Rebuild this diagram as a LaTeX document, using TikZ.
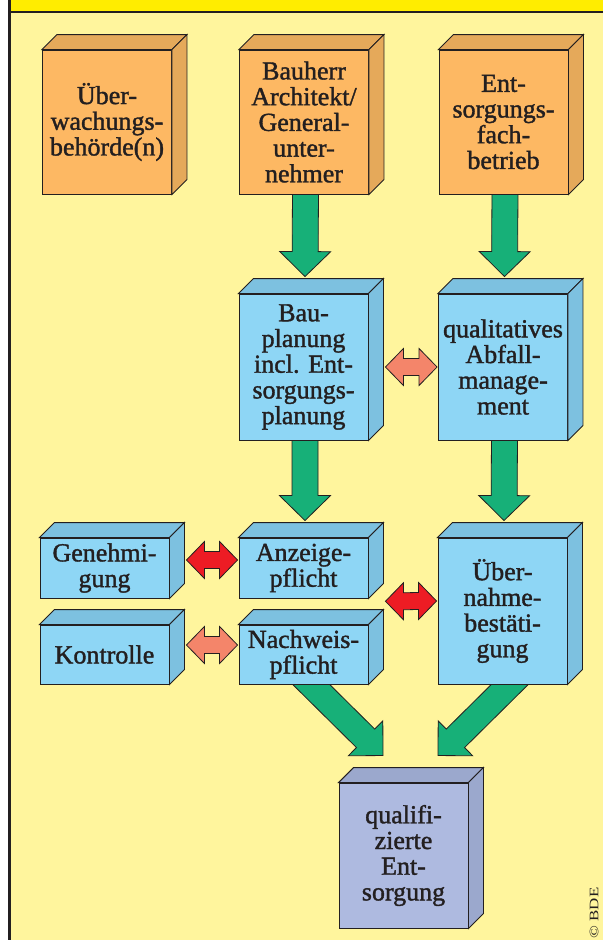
\documentclass[tikz,border=0pt]{standalone}
\usepackage{fontspec}
\setmainfont{Liberation Serif}
\newfontfamily\boxfont{Liberation Serif}[FakeBold=1.4]
\usetikzlibrary{calc}

\definecolor{ink}{HTML}{231F20}
\definecolor{paper}{HTML}{FFF59D}
\definecolor{band}{HTML}{FFED00}
\definecolor{ofront}{HTML}{FDB863}
\definecolor{oside}{HTML}{E5A95A}
\definecolor{bfront}{HTML}{8ED6F5}
\definecolor{bside}{HTML}{7DC1E0}
\definecolor{lfront}{HTML}{AEBAE0}
\definecolor{lside}{HTML}{9BA8CD}
\definecolor{flow}{HTML}{17B078}
\definecolor{hotred}{HTML}{ED1C24}
\definecolor{salmon}{HTML}{F4856A}

\pgfdeclarelayer{back}
\pgfsetlayers{back,main}

% top and right faces of a box whose front face is node #1
\newcommand{\cubefaces}[2]{%
  \draw[edge, fill=#2] (#1.north west) -- ++(15,-15)
    -- ([shift={(15,-15)}]#1.north east) -- (#1.north east) -- cycle;
  \draw[edge, fill=#2] (#1.north east) -- ++(15,-15)
    -- ([shift={(15,-15)}]#1.south east) -- (#1.south east) -- cycle;
}

% broad green flow arrow: start, tip, head length, head half-width
\newcommand{\flowarrow}[4]{%
  \path (#1) coordinate (fa-s) (#2) coordinate (fa-t);
  \path ($(fa-t)!#3!(fa-s)$) coordinate (fa-h);
  \draw[edge, line width=0.8pt, fill=flow]
    ($(fa-s)!13pt!90:(fa-t)$) -- ($(fa-h)!13pt!90:(fa-t)$)
    -- ($(fa-h)!#4!90:(fa-t)$) -- (fa-t)
    -- ($(fa-h)!#4!-90:(fa-t)$) -- ($(fa-h)!13pt!-90:(fa-t)$)
    -- ($(fa-s)!13pt!-90:(fa-t)$) -- cycle;
}

% short horizontal double arrow: left tip, right tip, colour
\newcommand{\twoway}[3]{%
  \path (#1) coordinate (da-l) (#2) coordinate (da-r);
  \draw[edge, line width=0.8pt, fill=#3]
    (da-l) -- ++(18,-18.5) -- ++(0,10) -- ($(da-r)+(-18,-8.5)$)
    -- ++(0,-10) -- (da-r) -- ++(-18,18.5) -- ++(0,-10)
    -- ($(da-l)+(18,8.5)$) -- ++(0,10) -- cycle;
}

\tikzset{
  edge/.style={draw=ink, line width=0.9pt, line join=miter},
  face/.style={edge, inner sep=0pt, minimum width=129pt, text=ink,
    align=center, font=\boxfont\fontsize{26}{25.7}\selectfont},
  orangebox/.style={face, fill=ofront},
  bluebox/.style={face, fill=bfront},
  lilacbox/.style={face, fill=lfront},
}

\begin{document}
\begin{tikzpicture}[x=1pt, y=-1pt]
\useasboundingbox (0,0) rectangle (603,940);

% boxes (front faces)
\node[orangebox, minimum height=144pt] (ueb) at (107,122) {Über-\\wachungs-\\behörde(n)};
\node[orangebox, minimum height=144pt] (bau) at (304,122) {Bauherr\\Architekt/\\General-\\unter-\\nehmer};
\node[orangebox, minimum height=144pt] (ent) at (503.5,122) {Ent-\\sorgungs-\\fach-\\betrieb};

\node[bluebox, minimum height=146pt] (bplan) at (303.5,367) {Bau-\\planung\\incl. Ent-\\sorgungs-\\planung};
\node[bluebox, minimum height=146pt] (qual) at (503,367) {qualitatives\\Abfall-\\manage-\\ment};

\node[bluebox, minimum height=60pt] (gen) at (104.5,568) {Genehmi-\\gung};
\node[bluebox, minimum height=60pt] (anz) at (303.5,568) {Anzeige-\\pflicht};
\node[bluebox, minimum height=59pt] (kon) at (104.5,654.5) {Kontrolle};
\node[bluebox, minimum height=59pt] (nach) at (303.5,654.5) {Nachweis-\\pflicht};
\node[bluebox, minimum height=146pt] (ubern) at (502.5,611) {Über-\\nahme-\\bestäti-\\gung};

\node[lilacbox, minimum height=145pt] (qe) at (403.5,855.5) {qualifi-\\zierte\\Ent-\\sorgung};

\cubefaces{ueb}{oside}
\cubefaces{bau}{oside}
\cubefaces{ent}{oside}
\cubefaces{bplan}{bside}
\cubefaces{qual}{bside}
\cubefaces{gen}{bside}
\cubefaces{anz}{bside}
\cubefaces{kon}{bside}
\cubefaces{nach}{bside}
\cubefaces{ubern}{bside}
\cubefaces{qe}{lside}

\begin{pgfonlayer}{back}
  % page, title band and frame
  \fill[white] (0,0) rectangle (603,940);
  \fill[paper] (9.5,12) rectangle (603,940);
  \fill[band] (9.5,0) rectangle (603,12);
  \draw[ink, line width=1.6pt] (9.5,12) -- (603,12);
  \draw[ink, line width=2.6pt] (9.5,0) -- (9.5,940);

  % flow arrows
  \flowarrow{[xshift=1.5pt,yshift=3pt]bau.south}{[xshift=1.5pt,yshift=17pt]bplan.north}{25pt}{25.5pt}
  \flowarrow{[xshift=1.5pt,yshift=3pt]ent.south}{[xshift=1.5pt,yshift=17pt]qual.north}{25pt}{25.5pt}
  \flowarrow{[xshift=1.5pt,yshift=3pt]bplan.south}{[xshift=1.5pt,yshift=17pt]anz.north}{25pt}{25.5pt}
  \flowarrow{[xshift=1.5pt,yshift=3pt]qual.south}{[xshift=1.5pt,yshift=17pt]ubern.north}{25pt}{25.5pt}
  \flowarrow{$(nach.south)+(-8.5,-16)$}{$(qe.north)+(-20.5,-27)$}{24.5pt}{24.5pt}
  \flowarrow{$(ubern.south)+(23.5,-16)$}{$(qe.north)+(34.5,-27)$}{24.5pt}{24.5pt}
\end{pgfonlayer}

% exchange arrows
\twoway{$(bplan.east)+(17,0)$}{$(qual.west)+(-1,0)$}{salmon}
\twoway{$(gen.east)+(17,-8)$}{$(anz.west)+(-1,-8)$}{hotred}
\twoway{$(kon.east)+(17,-9.5)$}{$(nach.west)+(-1,-9.5)$}{salmon}
\twoway{$($(anz.east)!0.5!(nach.east)$)+(17,-10)$}{$(ubern.west)+(-1,-10)$}{hotred}

% copyright
\node[rotate=90, text=ink, inner sep=0pt, font=\fontsize{13}{13}\selectfont] (copy) at (594,913)
  {\scalebox{1.3}[1]{\textcopyright\ BDE}};
\end{tikzpicture}
\end{document}
